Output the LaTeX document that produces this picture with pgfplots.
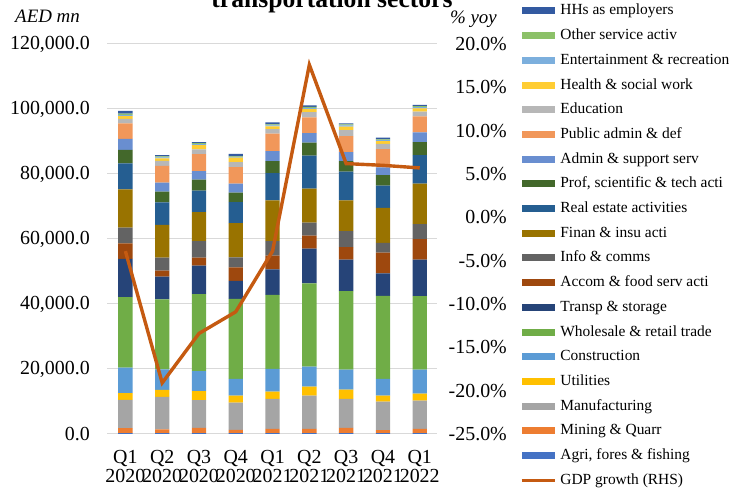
\documentclass[border=0pt]{standalone}
\usepackage{pgfplots}
\usepackage{pgfplotstable}
\pgfplotsset{compat=1.18}
\usepackage{fontspec}
\setmainfont{Liberation Serif}

\definecolor{cagri}{HTML}{4472C4}
\definecolor{cmining}{HTML}{ED7D31}
\definecolor{cmanuf}{HTML}{A5A5A5}
\definecolor{cutil}{HTML}{FFC000}
\definecolor{cconstr}{HTML}{5B9BD5}
\definecolor{cwhole}{HTML}{70AD47}
\definecolor{ctransp}{HTML}{264478}
\definecolor{caccom}{HTML}{9E480E}
\definecolor{cinfo}{HTML}{636363}
\definecolor{cfinan}{HTML}{997300}
\definecolor{creal}{HTML}{255E91}
\definecolor{cprof}{HTML}{43682B}
\definecolor{cadmin}{HTML}{698ED0}
\definecolor{cpubadm}{HTML}{F1975A}
\definecolor{ceduc}{HTML}{B7B7B7}
\definecolor{chealth}{HTML}{FFCD33}
\definecolor{cent}{HTML}{7CAFDD}
\definecolor{cother}{HTML}{8CC168}
\definecolor{chhs}{HTML}{335AA1}
\definecolor{cgdp}{HTML}{C55A11}
\definecolor{cgrid}{HTML}{D9D9D9}

\pgfplotstableread{
x agri mining manuf util constr whole transp accom info finan real prof admin pubadm educ health ent other hhs gdp
0 300 1500 8700 2050 7900 21640 11800 4800 4800 11800 8000 4100 3400 4800 1400 800 400 400 800 -3.9
1 250 1200 9950 2150 6360 21540 6970 1850 4000 10050 6970 3280 2770 5130 1540 820 300 300 400 -19.1
2 300 1550 8600 2770 6150 23700 8720 2460 5130 8920 6560 3380 2670 5230 1440 1330 300 300 300 -13.4
3 250 1000 8410 2150 5130 24600 5540 4200 3080 10560 6460 2870 2770 5130 1540 1330 200 200 800 -10.9
4 300 1240 9230 2260 6970 22770 7900 4200 4510 12510 8410 3690 3080 5330 1440 820 300 300 620 -3.9
5 300 1240 10260 2770 6150 25640 10660 4000 4000 10460 10150 4000 2970 4820 1640 920 400 300 400 17.6
6 300 1550 8920 2870 6150 24200 9640 3900 4920 9440 8820 3280 2770 4920 1850 1030 400 300 300 6.2
7 250 980 8720 1850 5130 25540 6970 6360 2970 10770 6870 3280 2360 5640 1540 920 300 200 510 6.0
8 300 1240 8720 2150 7380 22660 11180 6360 4620 12410 8820 4000 2970 4920 1440 1030 400 300 400 5.7
}\datatable

\pgfplotsset{
  barleg/.style={legend image code/.code={\fill[##1,draw=none] (0bp,-3.5bp) rectangle (33bp,3.5bp);}},
  lineleg/.style={legend image code/.code={\draw[##1] (0bp,0bp) -- (33bp,0bp);}},
}

\newcommand{\tickfont}{\fontsize{20}{20}\selectfont}

\begin{document}
\begin{tikzpicture}
\begin{axis}[
  at={(107bp,54bp)}, anchor=south west,
  width=330bp, height=390bp, scale only axis,
  ybar stacked, bar width=0.39,
  xmin=-0.5, xmax=8.47,
  ymin=0, ymax=120000,
  ytick={0,20000,40000,60000,80000,100000,120000},
  scaled y ticks=false,
  xtick={0,1,2,3,4,5,6,7,8},
  xticklabels={{Q1\\2020},{Q2\\2020},{Q3\\2020},{Q4\\2020},{Q1\\2021},{Q2\\2021},{Q3\\2021},{Q4\\2021},{Q1\\2022}},
  axis line style={draw=none},
  major tick length=0pt,
  ymajorgrids, grid style={cgrid, line width=1bp},
  /pgf/number format/assume math mode=true,
  tick label style={font=\tickfont},
  yticklabel={\pgfmathprintnumber[fixed, fixed zerofill, precision=1, 1000 sep={,}]{\tick}},
  yticklabel style={anchor=east, inner sep=0pt, xshift=-17bp},
  xticklabel style={align=center, anchor=north, inner sep=0pt, yshift=-16bp, font=\fontsize{20}{19.5}\selectfont},
  every axis plot/.append style={draw=none},
]
\addplot[fill=cagri] table[x=x,y=agri]{\datatable};
\addplot[fill=cmining] table[x=x,y=mining]{\datatable};
\addplot[fill=cmanuf] table[x=x,y=manuf]{\datatable};
\addplot[fill=cutil] table[x=x,y=util]{\datatable};
\addplot[fill=cconstr] table[x=x,y=constr]{\datatable};
\addplot[fill=cwhole] table[x=x,y=whole]{\datatable};
\addplot[fill=ctransp] table[x=x,y=transp]{\datatable};
\addplot[fill=caccom] table[x=x,y=accom]{\datatable};
\addplot[fill=cinfo] table[x=x,y=info]{\datatable};
\addplot[fill=cfinan] table[x=x,y=finan]{\datatable};
\addplot[fill=creal] table[x=x,y=real]{\datatable};
\addplot[fill=cprof] table[x=x,y=prof]{\datatable};
\addplot[fill=cadmin] table[x=x,y=admin]{\datatable};
\addplot[fill=cpubadm] table[x=x,y=pubadm]{\datatable};
\addplot[fill=ceduc] table[x=x,y=educ]{\datatable};
\addplot[fill=chealth] table[x=x,y=health]{\datatable};
\addplot[fill=cent] table[x=x,y=ent]{\datatable};
\addplot[fill=cother] table[x=x,y=other]{\datatable};
\addplot[fill=chhs] table[x=x,y=hhs]{\datatable};
\end{axis}

\begin{axis}[
  at={(107bp,54bp)}, anchor=south west,
  width=330bp, height=390bp, scale only axis,
  xmin=-0.5, xmax=8.47,
  ymin=-25, ymax=20,
  ytick={-25,-20,-15,-10,-5,0,5,10,15,20},
  axis x line=none,
  axis y line*=right,
  axis line style={draw=none},
  major tick length=0pt,
  /pgf/number format/assume math mode=true,
  yticklabel={\pgfmathprintnumber[fixed, fixed zerofill, precision=1]{\tick}\%},
  yticklabel style={font=\tickfont, anchor=east, inner sep=0pt, xshift=70bp},
  legend style={at={(axis description cs:1.2515,1.1026)}, anchor=north west,
    draw=none, fill=none, inner sep=0pt, outer sep=0pt,
    row sep=10.7bp, column sep=4bp,
    font=\fontsize{15.5}{16}\selectfont,
    nodes={inner sep=0pt, text height=11bp, text depth=3bp}},
  legend cell align=left,
]
\addlegendimage{barleg, fill=chhs}
\addlegendentry{HHs as employers}
\addlegendimage{barleg, fill=cother}
\addlegendentry{Other service activ}
\addlegendimage{barleg, fill=cent}
\addlegendentry{Entertainment \& recreation}
\addlegendimage{barleg, fill=chealth}
\addlegendentry{Health \& social work}
\addlegendimage{barleg, fill=ceduc}
\addlegendentry{Education}
\addlegendimage{barleg, fill=cpubadm}
\addlegendentry{Public admin \& def}
\addlegendimage{barleg, fill=cadmin}
\addlegendentry{Admin \& support serv}
\addlegendimage{barleg, fill=cprof}
\addlegendentry{Prof, scientific \& tech acti}
\addlegendimage{barleg, fill=creal}
\addlegendentry{Real estate activities}
\addlegendimage{barleg, fill=cfinan}
\addlegendentry{Finan \& insu acti}
\addlegendimage{barleg, fill=cinfo}
\addlegendentry{Info \& comms}
\addlegendimage{barleg, fill=caccom}
\addlegendentry{Accom \& food serv acti}
\addlegendimage{barleg, fill=ctransp}
\addlegendentry{Transp \& storage}
\addlegendimage{barleg, fill=cwhole}
\addlegendentry{Wholesale \& retail trade}
\addlegendimage{barleg, fill=cconstr}
\addlegendentry{Construction}
\addlegendimage{barleg, fill=cutil}
\addlegendentry{Utilities}
\addlegendimage{barleg, fill=cmanuf}
\addlegendentry{Manufacturing}
\addlegendimage{barleg, fill=cmining}
\addlegendentry{Mining \& Quarr}
\addlegendimage{barleg, fill=cagri}
\addlegendentry{Agri, fores \& fishing}
\addplot[lineleg, color=cgdp, line width=3.4bp, mark=none] table[x=x,y=gdp]{\datatable};
\addlegendentry{GDP growth (RHS)}
\end{axis}

\node[font=\bfseries\fontsize{25.7}{28}\selectfont, anchor=base] at (332bp,480bp) {transportation sectors};
\node[font=\itshape\fontsize{19}{20}\selectfont, anchor=base west, inner sep=0pt] at (15bp,465bp) {AED mn};
\node[font=\itshape\fontsize{19}{20}\selectfont, anchor=base east, inner sep=0pt] at (497bp,464bp) {\% yoy};

\pgfresetboundingbox
\path[use as bounding box] (0bp,0bp) rectangle (730bp,488bp);
\end{tikzpicture}
\end{document}
